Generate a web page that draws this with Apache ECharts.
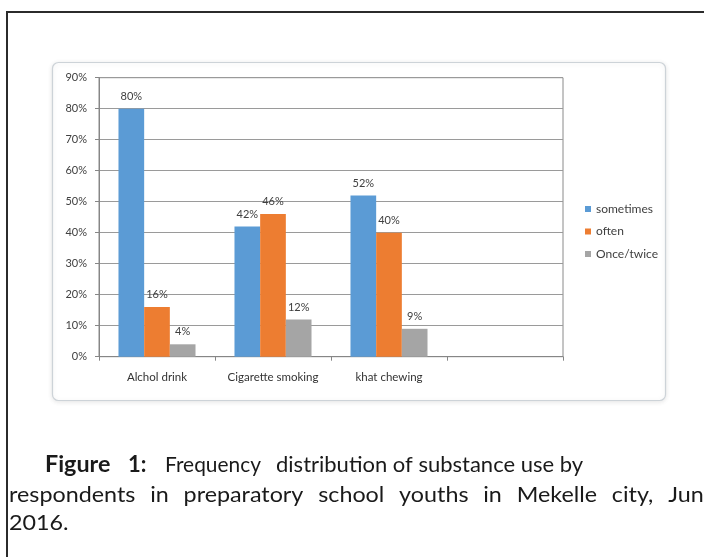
<!DOCTYPE html>
<html>
<head>
<meta charset="utf-8">
<style>
  html, body { margin: 0; padding: 0; background: #ffffff; }
  #chart { width: 704px; height: 557px; }
</style>
<script src="https://cdn.jsdelivr.net/npm/echarts@6/dist/echarts.min.js"></script>
</head>
<body>
<div id="chart"></div>
<script>
// Substance categories (last slot is an empty category in the layout)
const categories = ['Alchol drink', 'Cigarette smoking', 'khat chewing', ''];
// Percent of respondents by frequency of use
const sometimes = [80, 42, 52, null];
const often = [16, 46, 40, null];
const onceTwice = [4, 12, 9, null];
const seriesNames = ['sometimes', 'often', 'Once/twice'];
const yTicks = { min: 0, max: 90, step: 10 };

const captionLine1 = ['Figure', '1:', 'Frequency', 'distribution of substance use by'];
const captionLine2 = 'respondents in preparatory school youths in Mekelle city, June';
const captionLine3 = '2016.';

const FONT = 'Lato, "Open Sans", sans-serif';
const CAPTION_SIZE = 22;
const colors = ['#5b9bd5', '#ed7d31', '#a5a5a5'];

const chart = echarts.init(document.getElementById('chart'), null, { renderer: 'canvas' });

function barSeries(name, data, color) {
  return {
    name: name,
    type: 'bar',
    data: data,
    barGap: '0%',
    barCategoryGap: '33.6%',
    itemStyle: { color: color },
    label: {
      show: true,
      position: 'top',
      distance: 7,
      formatter: function (p) { return p.value == null ? '' : p.value + '%'; },
      fontFamily: FONT,
      fontSize: 11,
      color: '#404040'
    }
  };
}

// measure caption words so a line can be spread (justified) between two x positions
const measureCtx = document.createElement('canvas').getContext('2d');
function textWidth(str, weight) {
  measureCtx.font = (weight || 'normal') + ' ' + CAPTION_SIZE + 'px ' + FONT;
  return measureCtx.measureText(str).width;
}
function justifiedWords(line, x0, x1, y, sx) {
  const words = line.split(' ');
  const widths = words.map(function (w) { return textWidth(w) * sx; });
  const total = widths.reduce(function (a, b) { return a + b; }, 0);
  const gap = (x1 - x0 - total) / (words.length - 1);
  const out = [];
  let x = x0;
  words.forEach(function (w, i) {
    out.push(captionText(w, x, y, false, sx));
    x += widths[i] + gap;
  });
  return out;
}
function captionText(str, x, y, bold, sx) {
  return {
    type: 'text', x: x, y: y, scaleX: sx || 1, silent: true,
    style: {
      text: str, fontFamily: FONT, fontSize: CAPTION_SIZE,
      fontWeight: bold ? 'bold' : 'normal', fill: '#1a1a1a', verticalAlign: 'middle'
    }
  };
}

const captionGraphics = [
  captionText(captionLine1[0], 45, 465, true, 1.06),
  captionText(captionLine1[1], 128, 465, true),
  captionText(captionLine1[2], 165, 465, false, 0.95),
  captionText(captionLine1[3], 276, 465, false)
].concat(justifiedWords(captionLine2, 9, 716, 495, 1.06))
 .concat([captionText(captionLine3, 9, 523, false, 1.06)]);

chart.setOption({
  backgroundColor: '#ffffff',
  animation: false,
  grid: {
    left: 99, right: 141, top: 77.7, bottom: 200.3,
    show: true, borderColor: '#8a8a8a', borderWidth: 1,
    containLabel: false
  },
  legend: {
    orient: 'vertical',
    left: 580,
    top: 198,
    itemWidth: 6,
    itemHeight: 6,
    itemGap: 10.5,
    icon: 'rect',
    data: seriesNames,
    textStyle: { fontFamily: FONT, fontSize: 12, color: '#404040' }
  },
  xAxis: {
    type: 'category',
    data: categories,
    axisLine: { lineStyle: { color: '#868686' } },
    axisTick: { show: true, length: 4, lineStyle: { color: '#868686' } },
    axisLabel: { interval: 0, fontFamily: FONT, fontSize: 11.5, color: '#333333', margin: 15 }
  },
  yAxis: {
    type: 'value',
    min: yTicks.min,
    max: yTicks.max,
    interval: yTicks.step,
    axisLine: { show: true, lineStyle: { color: '#868686' } },
    axisTick: { show: true, length: 4, lineStyle: { color: '#868686' } },
    axisLabel: { formatter: '{value}%', fontFamily: FONT, fontSize: 11, color: '#404040', margin: 12 },
    splitLine: { lineStyle: { color: '#9a9a9a' } }
  },
  series: [
    barSeries(seriesNames[0], sometimes, colors[0]),
    barSeries(seriesNames[1], often, colors[1]),
    barSeries(seriesNames[2], onceTwice, colors[2])
  ],
  graphic: [
    // outer figure frame
    {
      type: 'rect', z: 0, silent: true,
      shape: { x: 7, y: 12, width: 760, height: 620 },
      style: { fill: 'none', stroke: '#2b2b2b', lineWidth: 2 }
    },
    // chart area frame
    {
      type: 'rect', z: -1, silent: true,
      shape: { x: 52.5, y: 62.5, width: 613, height: 338, r: 6 },
      style: { fill: '#ffffff', stroke: '#cdd3d8', lineWidth: 1.2,
               shadowBlur: 5, shadowColor: 'rgba(0,0,0,0.10)', shadowOffsetY: 1 }
    }
  ].concat(captionGraphics)
});
</script>
</body>
</html>
